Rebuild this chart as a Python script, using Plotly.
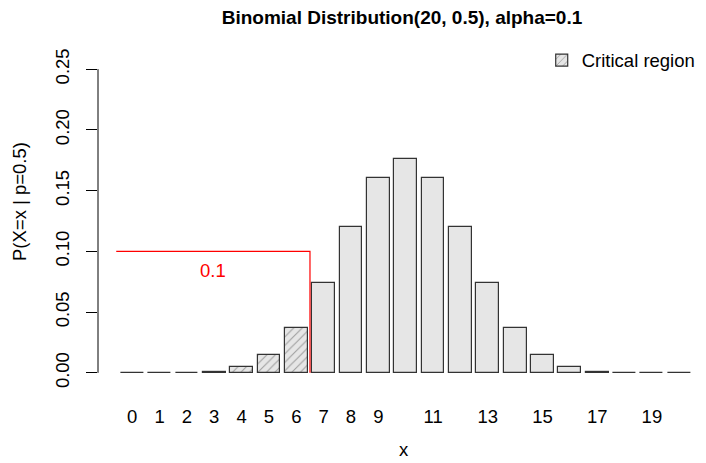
import plotly.graph_objects as go

# ---- data ----
x_values = list(range(21))
probs = [9.54e-07, 1.907e-05, 1.812e-04, 1.087e-03, 4.621e-03, 1.4786e-02,
         3.6964e-02, 7.3929e-02, 1.20134e-01, 1.60179e-01, 1.76197e-01,
         1.60179e-01, 1.20134e-01, 7.3929e-02, 3.6964e-02, 1.4786e-02,
         4.621e-03, 1.087e-03, 1.812e-04, 1.907e-05, 9.54e-07]
critical_max = 6          # critical region: X <= 6
alpha = 0.1
shown_tick_labels = ["0", "1", "2", "3", "4", "5", "6", "7", "8", "9",
                     "11", "13", "15", "17", "19"]
y_ticks = [0.00, 0.05, 0.10, 0.15, 0.20, 0.25]
y_tick_labels = ["0.00", "0.05", "0.10", "0.15", "0.20", "0.25"]

# R barplot positions (width 1, space 0.2)
centers = [0.7 + 1.2 * k for k in x_values]
boundary = centers[critical_max] + 0.5 + 0.1

FONT = "Liberation Sans, Arial, sans-serif"
FS = 18.5

crit_idx = [k for k in x_values if k <= critical_max]
rest_idx = [k for k in x_values if k > critical_max]

fig = go.Figure()
fig.add_trace(go.Bar(
    x=[centers[k] for k in crit_idx], y=[probs[k] for k in crit_idx],
    width=1.0, name="Critical region", showlegend=True,
    marker=dict(color="#e6e6e6",
                line=dict(color="#333333", width=1.2),
                pattern=dict(shape="/", fgcolor="#555555", bgcolor="#e6e6e6",
                             size=6, solidity=0.18)),
))
fig.add_trace(go.Bar(
    x=[centers[k] for k in rest_idx], y=[probs[k] for k in rest_idx],
    width=1.0, showlegend=False,
    marker=dict(color="#e6e6e6", line=dict(color="#333333", width=1.2)),
))
fig.add_trace(go.Scatter(
    x=[0, boundary, boundary], y=[alpha, alpha, 0],
    mode="lines", line=dict(color="#ff0000", width=1.2),
    showlegend=False, hoverinfo="skip",
))

tick_pos = [centers[int(t)] for t in shown_tick_labels]

fig.update_layout(
    width=706, height=463,
    margin=dict(l=98, r=1, t=57, b=78),
    paper_bgcolor="white", plot_bgcolor="white",
    font=dict(family=FONT, size=FS, color="black"),
    bargap=0,
    title=dict(text="<b>Binomial Distribution(20, 0.5), alpha=0.1</b>",
               x=0.5008, xref="paper", xanchor="center",
               y=1 - 17.5 / 463, yref="container", yanchor="middle",
               font=dict(family=FONT, size=19, color="black")),
    xaxis=dict(range=[-0.8, 25.83], showgrid=False, zeroline=False,
               showline=False, ticks="", tickmode="array",
               tickvals=tick_pos, ticktext=shown_tick_labels,
               ticklabelstandoff=18),
    yaxis=dict(range=[-0.01, 0.26], showgrid=False, zeroline=False,
               showline=False, ticks="outside", ticklen=11, tickcolor="black",
               tickmode="array", tickvals=y_ticks, ticktext=y_tick_labels,
               tickangle=-90, ticklabelstandoff=10),
    legend=dict(x=0.731, xanchor="left", y=1.047, yanchor="top",
                bgcolor="rgba(0,0,0,0)", font=dict(size=FS)),
    shapes=[dict(type="line", xref="paper", yref="y", x0=0, x1=0,
                 y0=0, y1=0.25, line=dict(color="black", width=1))],
    annotations=[
        dict(text="x", x=(404 - 98) / 607, y=(385 - 462) / 328,
             xref="paper", yref="paper", showarrow=False,
             xanchor="center", yanchor="bottom"),
        dict(text="0.1", x=4.25, y=0.0843, xref="x", yref="y",
             showarrow=False, font=dict(color="#ff0000", size=FS)),
        dict(text="P(X=x | p=0.5)", x=(20 - 98) / 607, y=(385 - 202) / 328,
             xref="paper", yref="paper", showarrow=False, textangle=-90,
             xanchor="center", yanchor="middle"),
    ],
)

fig.write_html("out.html", config={"displayModeBar": False},
               post_script="document.body.style.margin='0px';document.body.style.overflow='hidden';")
